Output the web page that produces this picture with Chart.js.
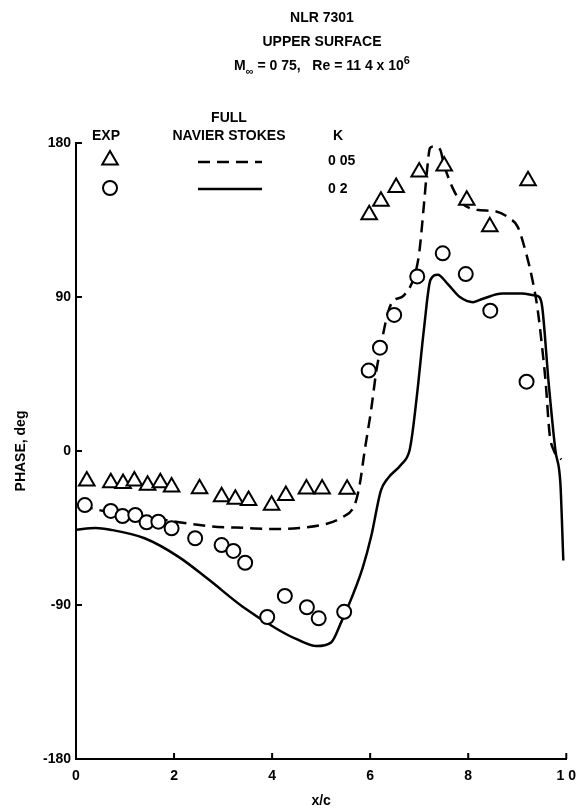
<!DOCTYPE html>
<html lang="en">
<head>
<meta charset="UTF-8">
<title>NLR 7301 - Upper Surface Phase</title>
<script src="https://cdn.jsdelivr.net/npm/chart.js"></script>
<style>
    html, body { margin: 0; padding: 0; background: #fff; }
    .lamina { position: relative; width: 585px; height: 812px; font-family: "Liberation Sans", Arial, sans-serif; font-weight: bold; color: #000; }
    .lamina canvas { position: absolute; left: 0; top: 0; }
    .titulo { position: absolute; left: 0; width: 644px; text-align: center; font-size: 14px; line-height: 16px; }
    .titulo sub { font-size: 11px; vertical-align: -5px; line-height: 0; }
    .titulo sup { font-size: 11px; vertical-align: 6px; line-height: 0; }
</style>
</head>
<body>
<div class="lamina">
    <canvas id="fase" width="585" height="812"></canvas>
    <div class="titulo" style="top: 9px;">NLR 7301</div>
    <div class="titulo" style="top: 33px;">UPPER SURFACE</div>
    <div class="titulo" style="top: 57px;">M<sub>&infin;</sub> = 0 75,&nbsp;&nbsp;&nbsp;Re = 11 4 x 10<sup>6</sup></div>
</div>

<script>
// experimento, k = 0.05 (triangulos)
const xExpK005 = [0.022, 0.071, 0.096, 0.119, 0.146, 0.172, 0.195, 0.252, 0.297, 0.325, 0.352, 0.399,
    0.428, 0.470, 0.502, 0.553, 0.598, 0.622, 0.653, 0.700, 0.751, 0.797, 0.844, 0.922];
const faseExpK005 = [-17.5, -18.5, -19, -17.5, -20, -18.5, -21, -22, -26.7, -28.2, -29, -31.7,
    -26, -22.2, -22.2, -22.4, 138, 146, 154, 163, 166.5, 146.5, 131, 158];

// experimento, k = 0.2 (circulos)
const xExpK02 = [0.018, 0.071, 0.095, 0.121, 0.144, 0.168, 0.195, 0.243, 0.297, 0.321, 0.345, 0.390,
    0.426, 0.471, 0.495, 0.547, 0.597, 0.620, 0.649, 0.696, 0.748, 0.795, 0.845, 0.919];
const faseExpK02 = [-31.6, -35, -38, -37.4, -41.7, -41.3, -45.2, -51, -55, -58.4, -65.3, -97,
    -84.7, -91.3, -97.8, -94, 47, 60.4, 79.5, 102, 115.5, 103.4, 82, 40.5];

// Navier-Stokes completo, k = 0.05 (trazo discontinuo)
const xNsK005 = [0.01, 0.072, 0.173, 0.274, 0.348, 0.40, 0.455, 0.509, 0.541, 0.569, 0.579, 0.589,
    0.602, 0.612, 0.619, 0.636, 0.645, 0.669, 0.690, 0.700, 0.710, 0.716, 0.722, 0.730, 0.743, 0.750,
    0.767, 0.787, 0.817, 0.857, 0.884, 0.901, 0.918, 0.931, 0.941, 0.951, 0.958, 0.966, 0.975, 0.99];
const faseNsK005 = [-32, -36, -40, -44, -45, -45.6, -45, -42.7, -39, -31, -19, 0.6,
    24, 45.6, 57, 80.6, 87, 91, 102, 115.7, 145, 164, 177, 178, 176, 168,
    154.5, 145, 141, 140, 136, 131, 115.7, 100, 84, 60, 40, 10, 0, -5];

// Navier-Stokes completo, k = 0.2 (trazo continuo)
const xNsK02 = [0.0, 0.04, 0.07, 0.14, 0.21, 0.27, 0.34, 0.41, 0.45, 0.49, 0.52, 0.541, 0.562, 0.585,
    0.602, 0.622, 0.636, 0.663, 0.68, 0.686, 0.696, 0.710, 0.723, 0.738, 0.757, 0.783, 0.81, 0.83,
    0.87, 0.91, 0.934, 0.945, 0.951, 0.964, 0.978, 0.988, 0.994];
const faseNsK02 = [-46, -45, -46, -51, -62, -75, -91, -104, -110, -114, -112, -100, -86, -68,
    -50, -23, -16, -8, 0, 10, 34, 72, 100, 103, 98, 90, 87, 89,
    92, 92, 91, 90, 84, 40, 0, -19, -64];

const xTicks = [0, 0.2, 0.4, 0.6, 0.8, 1.0];
const xTickLabels = ['0', '2', '4', '6', '8', '1 0'];
const yTicks = [-180, -90, 0, 90, 180];
const yTickLabels = ['-180', '-90', '0', '90', '180'];

const fuente = { family: '"Liberation Sans", Arial, sans-serif', size: 14, weight: 'bold' };

function puntos(xs, ys) {
    return xs.map((x, i) => ({ x: x, y: ys[i] }));
}

// marcas de escala hacia dentro y leyenda
const marcasYLeyenda = {
    id: 'marcasYLeyenda',
    afterDraw(chart) {
        const ctx = chart.ctx;
        const area = chart.chartArea;
        const sx = chart.scales.x;
        const sy = chart.scales.y;
        ctx.save();
        ctx.strokeStyle = '#000';
        ctx.lineWidth = 2;
        yTicks.forEach(v => {
            const y = sy.getPixelForValue(v);
            ctx.beginPath();
            ctx.moveTo(area.left, y);
            ctx.lineTo(area.left + 6, y);
            ctx.stroke();
        });
        xTicks.forEach(v => {
            const x = sx.getPixelForValue(v);
            ctx.beginPath();
            ctx.moveTo(x, area.bottom);
            ctx.lineTo(x, area.bottom - 6);
            ctx.stroke();
        });

        // leyenda
        ctx.fillStyle = '#000';
        ctx.font = 'bold 14px "Liberation Sans", Arial, sans-serif';
        ctx.textAlign = 'center';
        ctx.textBaseline = 'middle';
        ctx.fillText('FULL', 229, 118);
        ctx.fillText('EXP', 106, 136);
        ctx.fillText('NAVIER STOKES', 229, 136);
        ctx.fillText('K', 338, 136);
        ctx.textAlign = 'left';
        ctx.fillText('0 05', 328, 161);
        ctx.fillText('0 2', 328, 189);

        const ds = chart.data.datasets;
        ctx.fillStyle = '#fff';
        ctx.lineWidth = 2;
        Chart.helpers.drawPoint(ctx, { pointStyle: ds[0].pointStyle, radius: ds[0].pointRadius, borderWidth: 2, rotation: 0 }, 110, 160);
        Chart.helpers.drawPoint(ctx, { pointStyle: ds[1].pointStyle, radius: ds[1].pointRadius, borderWidth: 2, rotation: 0 }, 110, 188);

        ctx.lineWidth = ds[2].borderWidth;
        ctx.setLineDash(ds[2].borderDash);
        ctx.beginPath();
        ctx.moveTo(198, 162);
        ctx.lineTo(262, 162);
        ctx.stroke();
        ctx.setLineDash([]);
        ctx.lineWidth = ds[3].borderWidth;
        ctx.beginPath();
        ctx.moveTo(198, 189);
        ctx.lineTo(262, 189);
        ctx.stroke();
        ctx.restore();
    }
};

new Chart(document.getElementById('fase'), {
    type: 'scatter',
    data: {
        datasets: [
            {
                label: 'EXP k = 0.05',
                data: puntos(xExpK005, faseExpK005),
                pointStyle: 'triangle',
                pointRadius: 9,
                borderColor: '#000',
                backgroundColor: '#fff',
                borderWidth: 2,
                order: 0
            },
            {
                label: 'EXP k = 0.2',
                data: puntos(xExpK02, faseExpK02),
                pointStyle: 'circle',
                pointRadius: 7,
                borderColor: '#000',
                backgroundColor: '#fff',
                borderWidth: 2,
                order: 0
            },
            {
                label: 'Navier Stokes k = 0.05',
                data: puntos(xNsK005, faseNsK005),
                showLine: true,
                pointRadius: 0,
                borderColor: '#000',
                borderWidth: 2.5,
                borderDash: [12, 7],
                cubicInterpolationMode: 'monotone',
                order: 1
            },
            {
                label: 'Navier Stokes k = 0.2',
                data: puntos(xNsK02, faseNsK02),
                showLine: true,
                pointRadius: 0,
                borderColor: '#000',
                borderWidth: 2.5,
                cubicInterpolationMode: 'monotone',
                order: 1
            }
        ]
    },
    options: {
        responsive: false,
        animation: false,
        layout: { padding: { top: 143, right: 13, left: 0, bottom: 0 } },
        plugins: {
            legend: { display: false },
            tooltip: { enabled: false }
        },
        scales: {
            x: {
                type: 'linear',
                min: 0,
                max: 1,
                afterFit: s => { s.height = 53; },
                afterBuildTicks: s => { s.ticks = xTicks.map(v => ({ value: v })); },
                grid: { display: false, drawTicks: false },
                border: { display: true, color: '#000', width: 2 },
                ticks: {
                    color: '#000',
                    font: fuente,
                    padding: 9,
                    maxRotation: 0,
                    callback: v => xTickLabels[xTicks.indexOf(v)]
                },
                title: { display: true, text: 'x/c', color: '#000', font: fuente, padding: { top: 0, bottom: 2 } }
            },
            y: {
                type: 'linear',
                min: -180,
                max: 180,
                afterFit: s => { s.width = 76; },
                afterBuildTicks: s => { s.ticks = yTicks.map(v => ({ value: v })); },
                grid: { display: false, drawTicks: false },
                border: { display: true, color: '#000', width: 2 },
                ticks: {
                    color: '#000',
                    font: fuente,
                    padding: 5,
                    callback: v => yTickLabels[yTicks.indexOf(v)]
                },
                title: { display: true, text: 'PHASE, deg', color: '#000', font: fuente, padding: { top: 13, bottom: 0 } }
            }
        }
    },
    plugins: [marcasYLeyenda]
});
</script>
</body>
</html>
